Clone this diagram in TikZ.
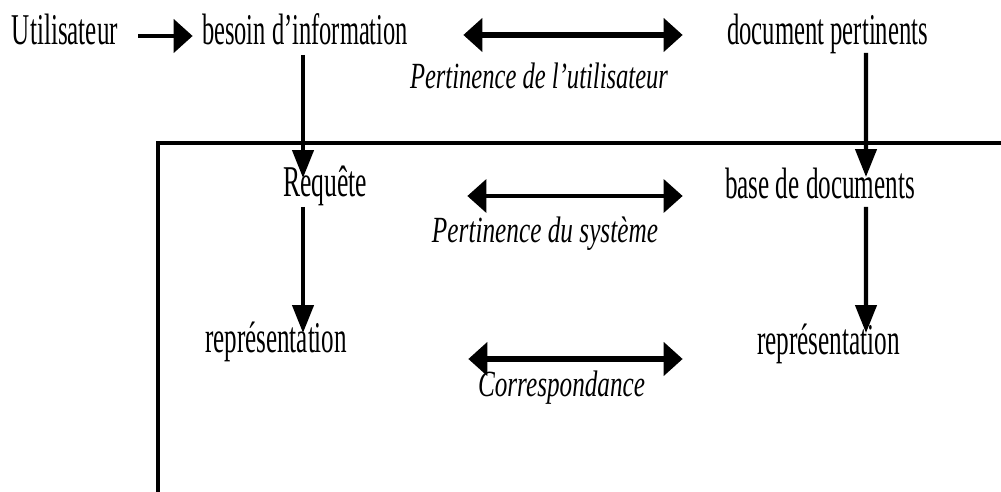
\documentclass[tikz,border=0pt]{standalone}
\usepackage{fontspec}
\setmainfont{Liberation Serif}
\usetikzlibrary{arrows.meta,calc}
\newlength\pxu \setlength\pxu{0.02cm}
\newcommand\fitw[2]{\resizebox{#1\pxu}{\height}{#2}}
\begin{document}
\begin{tikzpicture}[x=0.02cm,y=-0.02cm,
  lbl/.style={inner sep=0pt, anchor=base, font=\fontsize{25}{28}\selectfont},
  ilbl/.style={inner sep=0pt, anchor=base, font=\fontsize{21}{24}\selectfont\itshape},
  harr/.style={-{Triangle[length=10.8pt,width=18.7pt]}},
  dbl/.style={{Triangle[length=10.8pt,width=18.7pt]}-{Triangle[length=10.8pt,width=18.7pt]}},
  varr/.style={line width=2.3pt,-{Triangle[length=15.9pt,width=12pt]}},
  boxline/.style={line width=2.5pt}]
\useasboundingbox (0,0) rectangle (1001,492);
\begin{scope}
  \clip (0,0) rectangle (1001,492);
  \draw[boxline] (158,520) -- (158,143) -- (1040,143);
\end{scope}
\node[lbl] (util) at (65,45) {\fitw{106}{Utilisateur}};
\node[lbl] (besoin) at (305,45) {\fitw{206}{besoin d'information}};
\node[lbl] (docp) at (827.5,45) {\fitw{201}{document pertinents}};
\node[ilbl] (pu) at (539,89) {\fitw{258}{Pertinence de l'utilisateur}};
\node[lbl] (req) at (325,197) {\fitw{84}{Requête}};
\node[lbl] (based) at (820,199) {\fitw{190}{base de documents}};
\node[ilbl] (ps) at (545,243) {\fitw{226}{Pertinence du système}};
\node[lbl] (repl) at (276,353) {\fitw{142}{représentation}};
\node[lbl] (repr) at (828.5,355) {\fitw{143}{représentation}};
\node[ilbl] (corr) at (561.5,397) {\fitw{167}{Correspondance}};
\draw[harr, line width=2.8pt] ($(util.base east)+(20,-9)$) -- ($(besoin.base west)+(-9,-9)$);
\draw[dbl, line width=3.4pt] ($(besoin.base east)+(55,-10)$) -- ($(docp.base west)+(-44,-10)$);
\draw[dbl, line width=2.3pt] ($(req.base east)+(100,-1)$) -- ($(based.base west)+(-42,-3)$);
\draw[dbl, line width=3.4pt] ($(repl.base east)+(121,6)$) -- ($(repr.base west)+(-74,4)$);
\draw[varr] ($(besoin.base)+(-2,10)$) -- ($(req.base)+(-22,-19)$);
\draw[varr] ($(docp.base)+(38.5,8)$) -- ($(based.base)+(46,-22)$);
\draw[varr] ($(req.base)+(-22,10)$) -- ($(repl.base)+(27,-20)$);
\draw[varr] ($(based.base)+(46,8)$) -- ($(repr.base)+(37.5,-22)$);
\end{tikzpicture}
\end{document}
